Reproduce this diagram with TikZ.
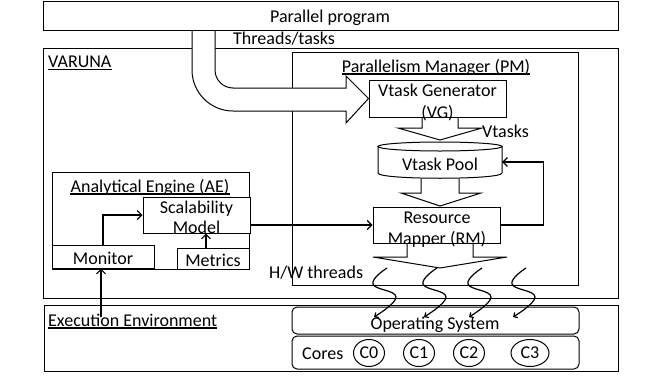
\documentclass[tikz,border=0pt]{standalone}
\usepackage{fontspec}
\setmainfont{Carlito}
\usetikzlibrary{arrows.meta,fit,calc,shapes.geometric}
\begin{document}
\begin{tikzpicture}[x=1pt,y=-1pt,
  font=\fontsize{18}{20}\selectfont,
  lw/.style={line width=1pt},
  box/.style={draw, lw, inner sep=0pt, rectangle},
  rbox/.style={draw, lw, inner sep=0pt, rounded corners=5pt},
  lbl/.style={inner sep=0pt, anchor=base},
  lblw/.style={inner sep=0pt, anchor=base west},
  ul/.style={line width=1.6pt},
  conn/.style={line width=1.1pt, -{Straight Barb[length=4.5pt,width=9pt]}},
  thr/.style={line width=1.2pt, -{Straight Barb[length=3pt,width=6pt]}},
  core/.style={draw, lw, ellipse, inner sep=0pt, minimum height=27},
]
\useasboundingbox (0,0) rectangle (656,383);

% frames
\node[box, fit={(43,48) (618,298)}] (varuna) {};
\node[box, fit={(292,52) (578,285)}] (pm) {};
\node[box, fit={(44,305) (618,371)}] (exec) {};

% PM content
\node[box, fit={(369,80) (506,117)}] (vg) {};
\node[inner sep=0pt, minimum width=124, minimum height=32] (pool) at (440,160) {};
\draw[lw] (440,146.5) ellipse [x radius=62, y radius=4.5];
\draw[lw] (378,146.5) -- (378,173) .. controls (378,180) and (502,180) .. (502,173) -- (502,146.5);
\node[box, fit={(373,207) (500,243)}] (rm) {};

% AE content
\node[box, fit={(52,172) (249,269)}] (ae) {};
\node[box, fill=white, fit={(143,197) (250,233)}] (scal) {};
\node[box, fit={(52,245) (154,268)}] (monitor) {};
\node[box, fit={(177,248) (249,269)}] (metrics) {};

% execution environment
\node[rbox, fit={(292,307) (579,334)}] (os) {};
\node[rbox, fit={(292,336) (579,369)}] (cores) {};
\node[core, minimum width=31] (c0) at (369,353) {C0};
\node[core, minimum width=31] (c1) at (419,353) {C1};
\node[core, minimum width=31] (c2) at (469,353) {C2};
\node[core, minimum width=38] (c3) at (530,353) {C3};

% big hollow arrow from the parallel program to the VG
\fill[white] (192,30) -- (192,70) .. controls (192,92.6) and (210.4,111) .. (233,111)
  -- (346,111) -- (346,123) -- (vg.west) -- (346,76) -- (346,88) -- (233,88)
  .. controls (223.1,88) and (215,79.9) .. (215,70) -- (215,30) -- cycle;
\draw[lw] (192,30) -- (192,70) .. controls (192,92.6) and (210.4,111) .. (233,111)
  -- (346,111) -- (346,123) -- (vg.west) -- (346,76) -- (346,88) -- (233,88)
  .. controls (223.1,88) and (215,79.9) .. (215,70) -- (215,30);
\node[box, fit={(43,1) (618,30)}] (prog) {};

% small hollow arrows
\draw[lw] (422,117) -- (422,128) -- (398,128) -- (440,140) -- (482,128) -- (458,128) -- (458,117);
\draw[lw] (421,179) -- (421,193) -- (401,193) -- (440,206) -- (481,193) -- (459,193) -- (459,179);
\draw[lw] (407,243) -- (407,257) -- (373,257) -- (440,268) -- (507,257) -- (473,257) -- (473,243);

% connectors
\draw[conn] (rm.east) -- ++(43,0) |- ([yshift=-2pt]pool.east);
\draw[conn] (scal.east |- rm.west) -- (rm.west);
\draw[conn] (monitor.north) |- (scal.west);
\draw[conn] ([xshift=-7pt]metrics.north) -- ([xshift=-7pt]metrics.north |- scal.south);
\coordinate (eenv) at (101,317);
\draw[conn] (eenv) -- (eenv |- monitor.south);

% hardware threads
\foreach \x/\n in {387/t0,437/t1,482/t2,526/t3}{
  \draw[thr] plot[smooth, tension=0.75] coordinates {(\x,268) (\x-14,284) (\x+9,297) (\x-13,317)};
}

% texts
\node[lbl] (progt) at (330,22.5) {Parallel program};
\node[lblw] (thrt) at (233,44) {Threads/tasks};
\node[lblw] (varunat) at (48,67.5) {VARUNA};
\draw[ul] ([yshift=-2pt]varunat.base west) -- ([yshift=-2pt]varunat.base east);
\node[lbl] (pmt) at (436,72) {Parallelism Manager (PM)};
\draw[ul] ([yshift=-2pt]pmt.base west) -- ([yshift=-2pt]pmt.base east);
\node[lbl] (vgt1) at (437.5,96.5) {Vtask Generator};
\node[lbl] (vgt2) at (437.5,118.5) {(VG)};
\node[lblw] (vtaskst) at (482,137) {Vtasks};
\node[lbl] (poolt) at (440,170) {Vtask Pool};
\node[lbl] (rmt1) at (437,223) {Resource};
\node[lbl] (rmt2) at (437,244) {Mapper (RM)};
\node[lbl] (aet) at (150,192) {Analytical Engine (AE)};
\draw[ul] ([yshift=-2pt]aet.base west) -- ([yshift=-2pt]aet.base east);
\node[lbl] (scalt1) at (196.5,213) {Scalability};
\node[lbl] (scalt2) at (196.5,233.5) {Model};
\node[lbl] (monitort) at (103,264) {Monitor};
\node[lbl] (metricst) at (213,266) {Metrics};
\node[lblw] (hwt) at (269,278) {H/W threads};
\node[lblw] (exect) at (48,326) {Execution Environment};
\draw[ul] ([yshift=-2pt]exect.base west) -- ([yshift=-2pt]exect.base east);
\node[lbl] (ost) at (435,329) {Operating System};
\node[lblw] (corest) at (302,359) {Cores};
\end{tikzpicture}
\end{document}
